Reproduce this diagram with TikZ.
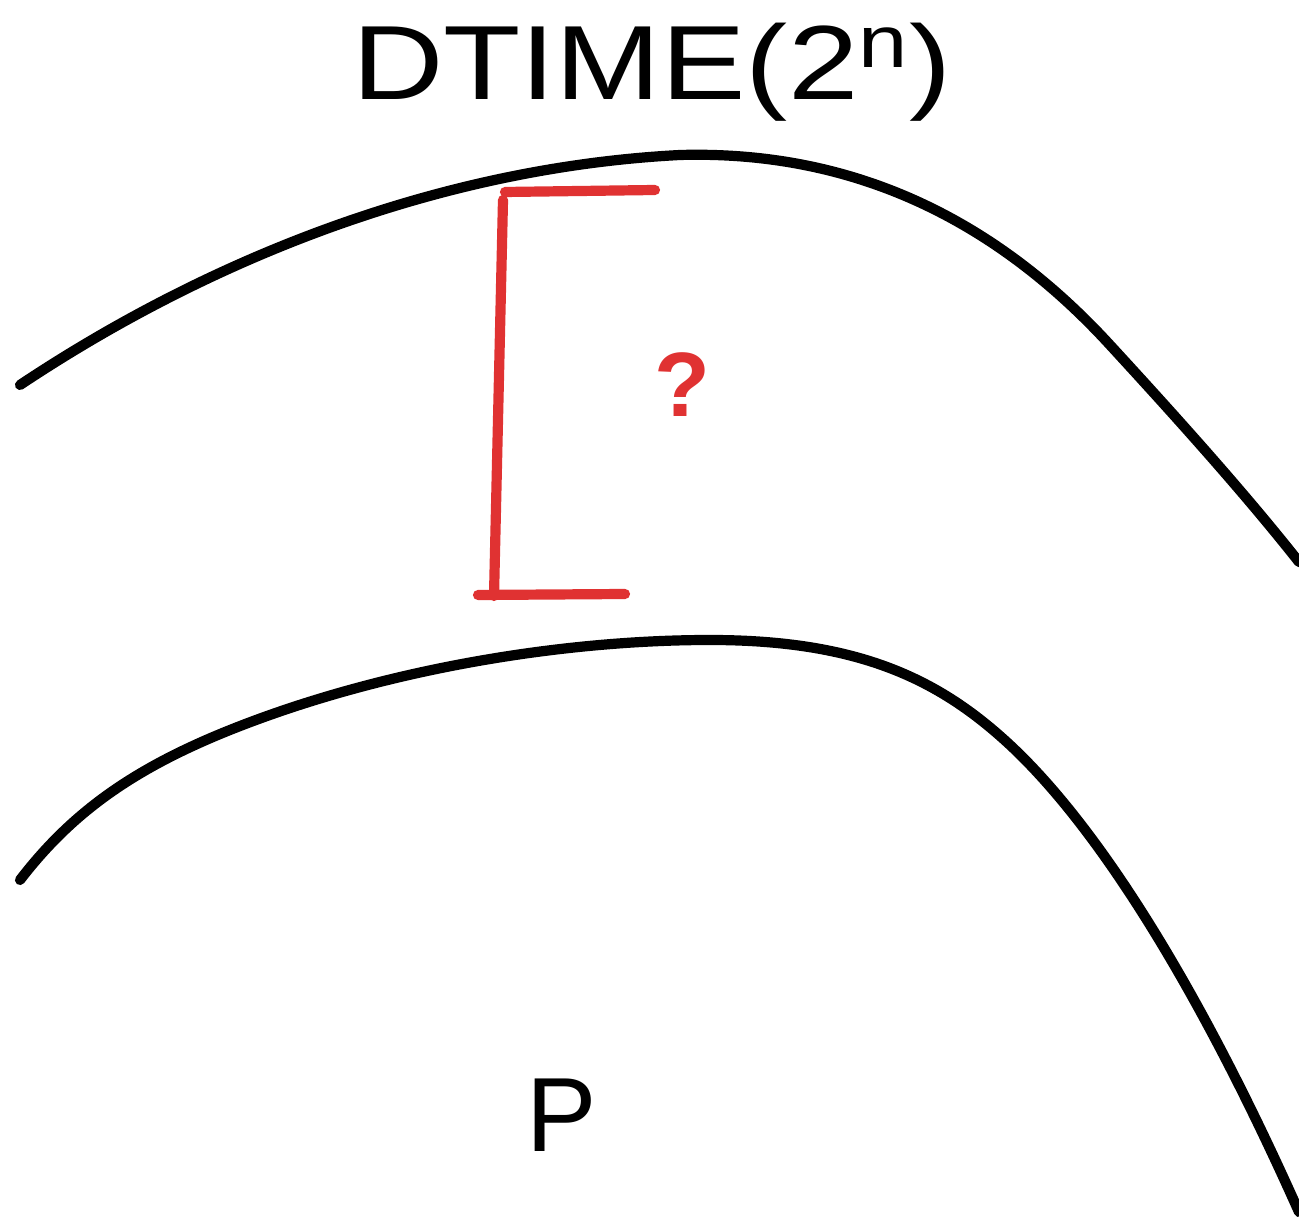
\documentclass[tikz,border=0pt]{standalone}
\usepackage{fontspec}
\setmainfont{Liberation Sans}
\definecolor{sketchred}{RGB}{224,50,50}
\tikzset{
  curve/.style={line width=2.9pt, black, line cap=round, line join=round},
  bracket/.style={line width=2.9pt, sketchred, line cap=round, line join=round},
  lbl/.style={inner sep=0pt, font=\fontsize{30}{36}\selectfont}
}
\begin{document}
\begin{tikzpicture}[x=0.01cm,y=-0.01cm]
\useasboundingbox (0,0) rectangle (1299,1222);
% outer region boundary
\draw[curve] (20,385) .. controls (200,265) and (430,168) .. (680,155)
  .. controls (860,150) and (1000,225) .. (1110,345)
  .. controls (1190,432) and (1250,500) .. (1299,562);
% inner region boundary (P)
\draw[curve] (20,880) .. controls (70,815) and (130,770) .. (230,730)
  .. controls (380,670) and (560,640) .. (710,640)
  .. controls (860,640) and (940,680) .. (1010,745)
  .. controls (1100,829) and (1200,990) .. (1299,1212);
% red bracket
\draw[bracket] (505,192) -- (655,190);
\draw[bracket] (503,200) -- (494,596);
\draw[bracket] (478,595) -- (625,594);
\node[lbl, text=sketchred, font=\fontsize{26}{30}\selectfont\bfseries] (q) at (682,385) {?};
\node[lbl, xscale=1.2] (dtime) at (652,72) {DTIME(2\textsuperscript{n})};
\node[lbl] (p) at (562,1115) {P};
\end{tikzpicture}
\end{document}
